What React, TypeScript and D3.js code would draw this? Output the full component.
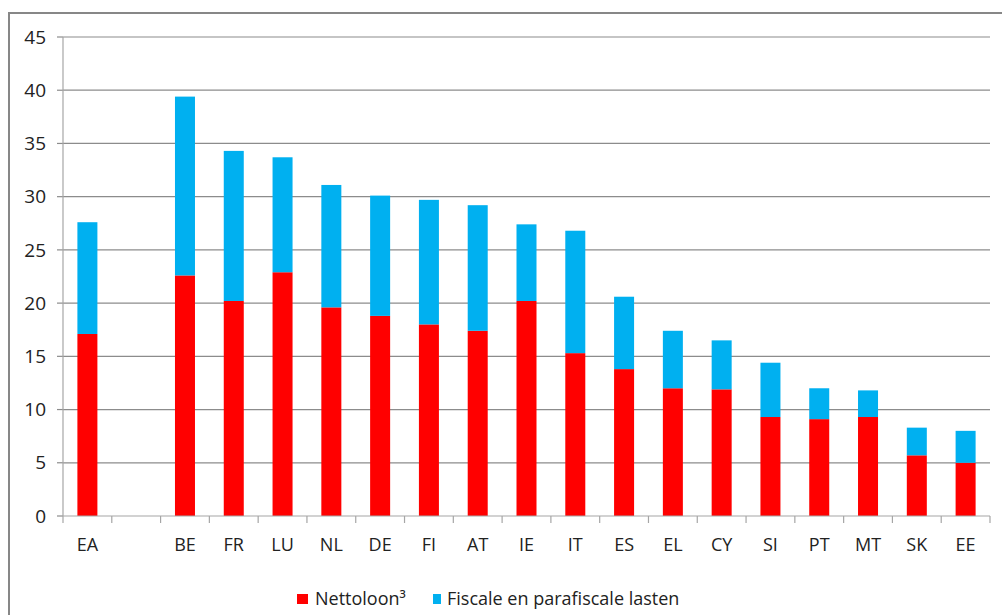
import React from "react";
import * as d3 from "d3";

const categories = ["EA", "", "BE", "FR", "LU", "NL", "DE", "FI", "AT", "IE", "IT", "ES", "EL", "CY", "SI", "PT", "MT", "SK", "EE"];
const nettoloon = [17.1, 0, 22.6, 20.2, 22.9, 19.6, 18.8, 18.0, 17.4, 20.2, 15.3, 13.8, 12.0, 11.9, 9.3, 9.1, 9.3, 5.7, 5.0];
const fiscaleLasten = [10.5, 0, 16.8, 14.1, 10.8, 11.5, 11.3, 11.7, 11.8, 7.2, 11.5, 6.8, 5.4, 4.6, 5.1, 2.9, 2.5, 2.6, 3.0];
const yTicks = [0, 5, 10, 15, 20, 25, 30, 35, 40, 45];
const seriesNames = ["Nettoloon³", "Fiscale en parafiscale lasten"];
const seriesColors = ["#FF0000", "#00B0F0"];

const FONT = "'Open Sans', sans-serif";

export default function App() {
  const W = 1002, H = 615;
  const left = 63, right = 990, top = 37, bottom = 516;
  const keys = categories.map((c, i) => `${i}`);
  const x = d3.scaleBand<string>().domain(keys).range([left, right]).paddingInner(0.59).paddingOuter(0.295);
  const y = d3.scaleLinear().domain([0, 45]).range([bottom, top]);
  const step = x.step();
  const bw = x.bandwidth();

  return (
    <svg width={W} height={H} style={{ position: "absolute", left: 0, top: 0, display: "block" }}>
      <rect x={0} y={0} width={W} height={H} fill="#fff" />
      <rect x={9} y={13} width={W + 10} height={H + 10} fill="none" stroke="#878787" strokeWidth={2} />
      {yTicks.map((t) => (
        <g key={t}>
          {t > 0 && <line x1={left} x2={right} y1={y(t)} y2={y(t)} stroke="#8c8c8c" strokeWidth={1.2} />}
          <line x1={left - 6} x2={left} y1={y(t)} y2={y(t)} stroke="#8c8c8c" strokeWidth={1.2} />
          <text x={46} y={y(t)} dy="0.35em" textAnchor="end" fontFamily={FONT} fontSize={19} fill="#222">{t}</text>
        </g>
      ))}
      <line x1={left} x2={left} y1={top} y2={bottom} stroke="#a6a6a6" strokeWidth={1.2} />
      {categories.map((c, i) => {
        const xs = x(keys[i])!;
        const n = nettoloon[i], f = fiscaleLasten[i];
        return (
          <g key={i}>
            {n > 0 && <rect x={xs} width={bw} y={y(n)} height={y(0) - y(n)} fill={seriesColors[0]} />}
            {f > 0 && <rect x={xs} width={bw} y={y(n + f)} height={y(n) - y(n + f)} fill={seriesColors[1]} />}
            <text x={xs + bw / 2} y={551} textAnchor="middle" fontFamily={FONT} fontSize={18} fill="#222">{c}</text>
          </g>
        );
      })}
      <line x1={left} x2={right} y1={bottom} y2={bottom} stroke="#a6a6a6" strokeWidth={1.2} />
      {d3.range(categories.length + 1).map((i) => (
        <line key={i} x1={left + i * step} x2={left + i * step} y1={bottom} y2={bottom + 7} stroke="#a6a6a6" strokeWidth={1.2} />
      ))}
      <g>
        <rect x={297} y={594} width={11} height={10} fill={seriesColors[0]} />
        <text x={315} y={605} fontFamily={FONT} fontSize={18} fill="#222">{seriesNames[0]}</text>
        <rect x={433} y={594} width={8} height={10} fill={seriesColors[1]} />
        <text x={447} y={605} fontFamily={FONT} fontSize={18} fill="#222">{seriesNames[1]}</text>
      </g>
    </svg>
  );
}
